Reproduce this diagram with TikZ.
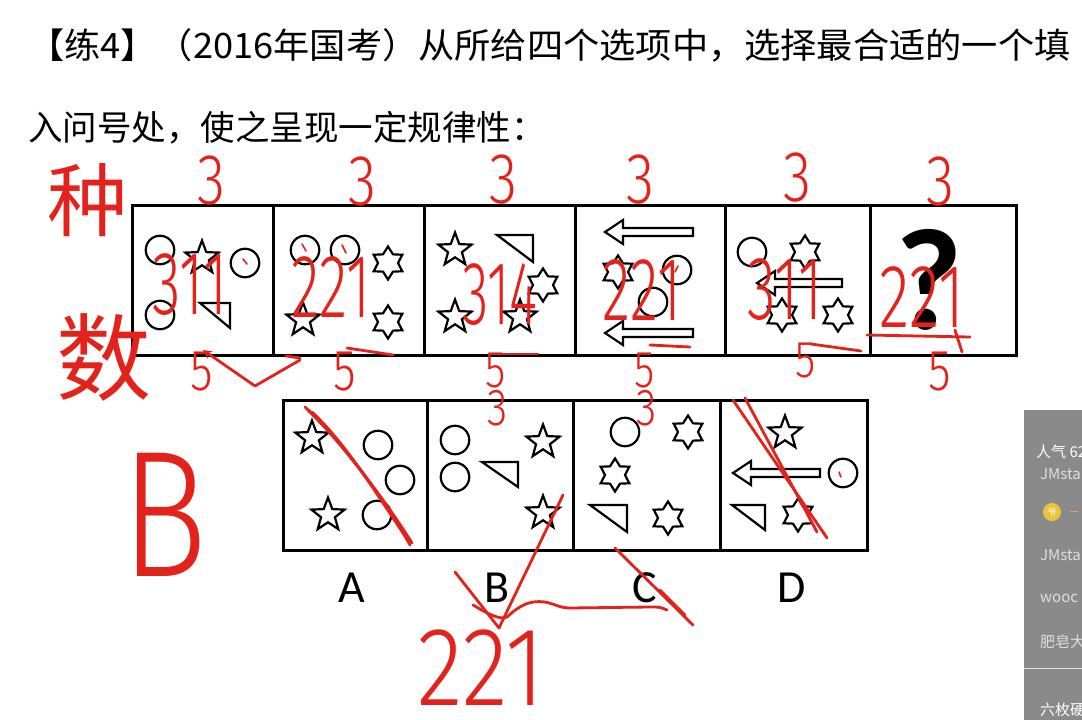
\documentclass[tikz,border=0pt]{standalone}
\usepackage{graphicx}
\usepackage{fontspec}
\setmainfont{Noto Sans CJK SC}
\newfontfamily\labfont{Carlito}
\newfontfamily\hand{Fira Sans Light}
\usetikzlibrary{shapes.geometric}

\definecolor{pen}{RGB}{228,34,28}
\definecolor{panelgray}{RGB}{138,138,138}
\definecolor{paneltext}{RGB}{222,222,222}

\tikzset{
 shp/.style={draw=black, line width=2.2pt, inner sep=0pt, line join=miter},
 fstar/.style={shp, star, star points=5, star point ratio=2.4, minimum size=35pt},
 sstar/.style={shp, star, star points=6, star point ratio=1.65, minimum size=33pt},
 ring/.style={shp, circle, minimum size=28.5pt},
 frame/.style={draw=black, line width=3pt},
 pen/.style={draw=pen, line width=2.8pt, line cap=round, line join=round},
 ink/.style={text=pen, font=\hand\fontsize{#1}{#1}\selectfont, inner sep=0pt},
 cjkink/.style={text=pen, font=\fontsize{#1}{#1}\selectfont, inner sep=0pt},
 optlab/.style={font=\labfont\fontsize{46}{46}\selectfont, inner sep=0pt},
 side/.style={font=\fontsize{15}{15}\selectfont, text=paneltext, anchor=west, inner sep=0pt},
}

\newcommand\fs[3]{\node[fstar] (#1) at (#2,#3) {};}
\newcommand\hs[3]{\node[sstar] (#1) at (#2,#3) {};}
\newcommand\rg[3]{\node[ring] (#1) at (#2,#3) {};}
\newcommand\rtri[4]{\draw[shp] (#1,#2) -- ++(#3,0) -- ++(0,#4) -- cycle;}
\newcommand\larr[3]{\draw[shp] (#1,#3) -- (#1+18,#3-12) -- (#1+18,#3-4) -- (#2,#3-4) -- (#2,#3+4) -- (#1+18,#3+4) -- (#1+18,#3+12) -- cycle;}
\newcommand\hw[6]{\node[ink=#4] (#1) at (#2,#3) {\scalebox{#5}[1]{#6}};}

\begin{document}
\begin{tikzpicture}[x=1pt,y=-1pt]
\useasboundingbox (0,0) rectangle (1082,720);
\fill[white] (0,0) rectangle (1082,720);

% title
\node[anchor=west, inner sep=0pt, font=\fontsize{35}{40}\selectfont] (title1) at (28,45)
  {\scalebox{1.035}[1]{【练4】（2016年国考）从所给四个选项中，选择最合适的一个填}};
\node[anchor=west, inner sep=0pt, font=\fontsize{34.5}{40}\selectfont] (title2) at (28,128)
  {入问号处，使之呈现一定规律性：};

% top row frames
\draw[frame] (132,205) rectangle (1016,355);
\foreach \xx in {273,424,575,725,870} \draw[frame] (\xx,205) -- (\xx,355);
% bottom row frames
\draw[frame] (283,400) rectangle (867,550);
\foreach \xx in {427,573,720} \draw[frame] (\xx,400) -- (\xx,550);

% panel 1
\rg{a1}{160}{250} \fs{a2}{202}{258} \rg{a3}{245}{263} \rg{a4}{160}{315}
\rtri{200}{303}{30}{25}
% panel 2
\rg{b1}{305}{250} \rg{b2}{345}{250} \hs{b3}{388}{263} \fs{b4}{303}{320} \hs{b5}{388}{322}
% panel 3
\fs{c1}{455}{250} \rtri{497}{235}{36}{27} \hs{c2}{543}{285} \fs{c3}{455}{317} \fs{c4}{520}{317}
% panel 4
\larr{605}{693}{232} \hs{d1}{618}{272} \rg{d2}{677}{270} \rg{d3}{653}{302} \larr{605}{693}{333}
% panel 5
\rg{e1}{752}{252} \hs{e2}{805}{252} \larr{757}{842}{283} \hs{e3}{782}{315} \hs{e4}{838}{315}
% panel 6
\node[anchor=base, inner sep=0pt, font=\labfont\bfseries\fontsize{145}{145}\selectfont] (qm) at (929,329) {?};

% option A
\fs{oa1}{312}{438} \rg{oa2}{378}{445} \rg{oa3}{400}{480} \fs{oa4}{328}{515} \rg{oa5}{377}{515}
% option B
\rg{ob1}{455}{440} \rg{ob2}{455}{477} \rtri{482}{462}{36}{25} \fs{ob3}{543}{442} \fs{ob4}{543}{513}
% option C
\rg{oc1}{625}{432} \hs{oc2}{688}{432} \hs{oc3}{615}{475} \rtri{590}{505}{37}{27} \hs{oc4}{668}{518}
% option D
\fs{od1}{785}{433} \larr{733}{820}{473} \rg{od2}{843}{473} \rtri{732}{505}{33}{25} \hs{od3}{798}{515}

% option labels
\node[optlab] (labA) at (352,588) {A};
\node[optlab] (labB) at (497,588) {B};
\node[optlab] (labC) at (645,588) {C};
\node[optlab] (labD) at (792,588) {D};

% side panel (screen overlay)
\fill[panelgray] (1024,410) rectangle (1082,720);
\begin{scope}
\clip (1024,410) rectangle (1082,720);
\node[side, text=white] (s1) at (1036,452) {人气 62};
\node[side] (s2) at (1040,474) {JMsta};
\node[circle, fill={rgb,255:red,236;green,196;blue,60}, minimum size=18pt, inner sep=0pt, font=\fontsize{9}{9}\selectfont, text=white] (coin) at (1052,512) {爷};
\node[side, text={rgb,255:red,236;green,180;blue,60}] (s3) at (1070,512) {\_};
\node[side] (s4) at (1040,555) {JMsta};
\node[side] (s5) at (1040,598) {wooc};
\node[side] (s6) at (1040,642) {肥皂大};
\draw[paneltext, line width=0.8pt] (1024,668) -- (1082,668);
\node[side, text=white] (s7) at (1040,710) {六枚硬};
\end{scope}

% ---------------- red handwriting ----------------
\node[cjkink=80] (zhong) at (87,200) {种};
\node[cjkink=95] (shu) at (104,357) {数};

\hw{t1}{211}{181}{72}{0.8}{3}
\hw{t2}{362}{182}{72}{0.8}{3}
\hw{t3}{503}{180}{72}{0.8}{3}
\hw{t4}{640}{180}{72}{0.8}{3}
\hw{t5}{797}{178}{72}{0.8}{3}
\hw{t6}{940}{182}{72}{0.8}{3}

\hw{n1}{190}{285}{90}{0.65}{311}
\hw{n2}{331}{287}{90}{0.65}{221}
\hw{n3}{500}{295}{90}{0.6}{314}
\hw{n4}{642}{290}{90}{0.65}{221}
\hw{n5}{785}{290}{90}{0.65}{311}
\hw{n6}{922}{297}{90}{0.7}{221}

\hw{f1}{202}{372}{58}{0.8}{5}
\hw{f2}{345}{372}{58}{0.8}{5}
\hw{f3}{496}{370}{52}{0.8}{5}
\hw{f4}{645}{370}{52}{0.8}{5}
\hw{f5}{806}{360}{52}{0.8}{5}
\hw{f6}{940}{372}{58}{0.8}{5}
\hw{g3}{498}{408}{52}{0.8}{3}
\hw{g4}{647}{408}{52}{0.8}{3}

\hw{bigB}{165}{515}{180}{0.8}{B}
\hw{ans}{481}{668}{112}{0.85}{221}

% strokes
\draw[pen, <-, >=stealth] (203,350) -- (255,386) -- (300,360);
\draw[pen] (300,358) -- (286,356);
\draw[pen] (347,348) -- (393,355);
\draw[pen] (494,354) -- (538,354);
\draw[pen] (650,345) -- (690,347);
\draw[pen] (811,344) -- (861,351);
\draw[pen] (867,335) -- (970,337);
\draw[pen] (955,330) -- (962,352);
% strike across A
\draw[pen] (305,407) .. controls (340,440) and (385,500) .. (412,543);
\draw[pen] (308,410) .. controls (345,445) and (388,505) .. (410,545);
\draw[pen] (312,412) .. controls (350,448) and (380,500) .. (408,540);
% strike across D
\draw[pen] (733,400) -- (827,538);
\draw[pen] (745,398) -- (817,532);
% strike across C
\draw[pen] (615,548) -- (693,625);
\draw[pen] (660,590) -- (685,615);
% check on B
\draw[pen] (455,572) -- (499,628) -- (563,495);
% tilde link
\draw[pen] (473,605) .. controls (490,615) and (500,620) .. (507,617)
  .. controls (520,605) and (530,600) .. (545,602)
  .. controls (555,604) and (560,608) .. (570,608)
  -- (650,607) .. controls (660,607) .. (667,610);
% small ticks inside figures
\draw[pen, line width=1.6pt] (302,244) -- (306,251);
\draw[pen, line width=1.6pt] (342,245) -- (346,253);
\draw[pen, line width=1.6pt] (243,259) -- (247,264);
\draw[pen, line width=1.6pt] (678,266) -- (675,272);
\draw[pen, line width=1.6pt] (839,472) -- (841,477);
\end{tikzpicture}
\end{document}
